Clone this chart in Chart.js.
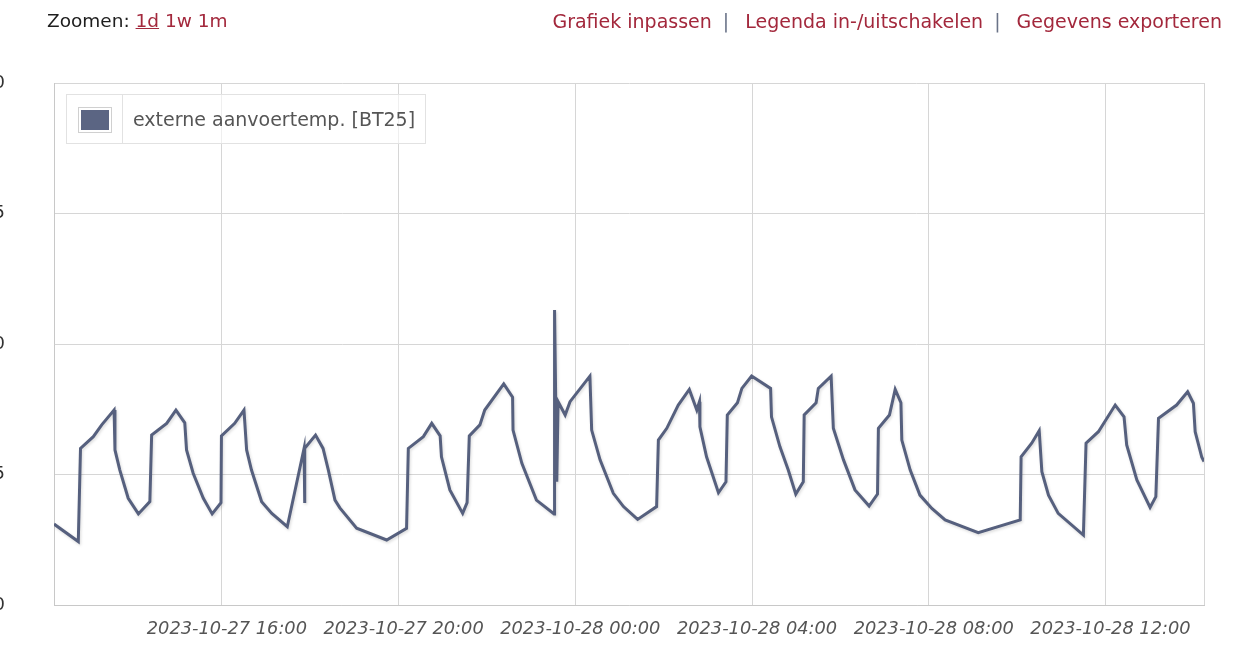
<!DOCTYPE html>
<html>
<head>
<meta charset="utf-8">
<script src="https://cdn.jsdelivr.net/npm/chart.js@4.4.0/dist/chart.umd.min.js"></script>
<style>
  body { margin: 0; background: #fff; width: 1255px; height: 656px; overflow: hidden; position: relative;
         font-family: "DejaVu Sans", sans-serif; }
  #wrap { position: absolute; left: 0; top: 0; width: 1255px; height: 656px; }
  .zoom { position: absolute; left: 47px; top: 10px; font-size: 18.5px; color: #1e1e1e; white-space: nowrap; }
  .zoom a { color: #a3283c; text-decoration: none; margin-left: 0; }
  .zoom a.on { text-decoration: underline; }
  .links { position: absolute; right: 33px; top: 10px; font-size: 19px; color: #a3283c; white-space: nowrap; }
  .links .sep { color: #6a7388; margin: 0 16px 0 11px; }
  .legend { position: absolute; left: 66px; top: 94px; width: 358px; height: 48px; border: 1px solid #e2e2e2;
            background: rgba(255,255,255,0.6); }
  .legend .cell { position: absolute; left: 0; top: 0; width: 55px; height: 48px; border-right: 1px solid #e2e2e2; }
  .legend .sw { position: absolute; left: 11px; top: 12px; width: 28px; height: 20px; border: 1px solid #d0d0d0;
                padding: 2px; background: #fff; }
  .legend .sw div { width: 100%; height: 100%; background: #5b6583; }
  .legend .txt { position: absolute; left: 66px; top: 13px; font-size: 19px; color: #555; white-space: nowrap; }
</style>
</head>
<body>
<div id="wrap"><canvas id="chart" width="1255" height="656"></canvas></div>
<div class="zoom">Zoomen: <a class="on">1d</a> <a>1w</a> <a>1m</a></div>
<div class="links">Grafiek inpassen<span class="sep">|</span>Legenda in-/uitschakelen<span class="sep">|</span>Gegevens exporteren</div>
<div class="legend"><div class="cell"><div class="sw"><div></div></div></div><div class="txt">externe aanvoertemp. [BT25]</div></div>
<script>
// time in hours counted from 2023-10-27 00:00
const hours = [
  12.20, 12.75, 12.80, 13.09, 13.28, 13.56, 13.58, 13.69, 13.88, 14.11,
  14.37, 14.41, 14.75, 14.96, 15.16, 15.20, 15.35, 15.58, 15.78,
  15.98, 15.99, 16.29, 16.50, 16.56, 16.67, 16.90, 17.13, 17.48,
  17.86, 17.87, 17.88, 18.12, 18.29, 18.41, 18.56, 18.67, 19.05, 19.73,
  20.18, 20.22, 20.56, 20.75, 20.94, 20.97, 21.16, 21.45,
  21.55, 21.60, 21.84, 21.95, 22.38, 22.58, 22.59, 22.79, 23.12, 23.52,
  23.53, 23.58, 23.61, 23.77, 23.88, 24.33, 24.37, 24.56, 24.86, 25.09, 25.41,
  25.84, 25.88, 26.07, 26.33, 26.58, 26.75, 26.81, 26.82, 26.97, 27.24,
  27.41, 27.44, 27.67, 27.77, 27.99, 28.42, 28.44, 28.63, 28.82, 28.99,
  29.16, 29.18, 29.45, 29.50, 29.79, 29.84, 30.07, 30.33, 30.65,
  30.84, 30.86, 31.11, 31.24, 31.37, 31.39, 31.58, 31.80, 32.07, 32.37, 33.12,
  34.07, 34.09, 34.33, 34.50, 34.56, 34.71, 34.93, 35.50,
  35.56, 35.84, 36.22, 36.42, 36.48, 36.71, 37.01,
  37.14, 37.20, 37.61, 37.86, 37.99, 38.03, 38.18, 38.23
];
const temps = [
  23.10, 22.43, 26.00, 26.45, 26.90, 27.47, 25.94, 25.17, 24.09, 23.49,
  23.96, 26.51, 26.96, 27.47, 26.98, 25.94, 25.05, 24.09, 23.49,
  23.92, 26.48, 26.96, 27.47, 25.94, 25.17, 23.96, 23.51, 23.00,
  26.00, 23.91, 26.00, 26.51, 26.00, 25.17, 24.02, 23.72, 22.94, 22.49,
  22.94, 26.00, 26.45, 26.96, 26.48, 25.68, 24.41, 23.51,
  23.92, 26.48, 26.90, 27.47, 28.47, 27.96, 26.70, 25.43, 24.02, 23.49,
  31.30, 24.72, 27.79, 27.28, 27.79, 28.77, 26.70, 25.56, 24.28, 23.77, 23.28,
  23.77, 26.32, 26.77, 27.66, 28.26, 27.47, 27.79, 26.83, 25.68, 24.30,
  24.72, 27.28, 27.75, 28.30, 28.77, 28.30, 27.21, 26.07, 25.17, 24.25,
  24.72, 27.28, 27.75, 28.30, 28.77, 26.77, 25.56, 24.41, 23.79,
  24.25, 26.77, 27.28, 28.26, 27.75, 26.32, 25.17, 24.21, 23.70, 23.26, 22.77,
  23.26, 25.68, 26.20, 26.68, 25.11, 24.21, 23.51, 22.68,
  26.20, 26.64, 27.66, 27.21, 26.13, 24.79, 23.74,
  24.15, 27.15, 27.66, 28.17, 27.73, 26.64, 25.66, 25.50
];
const tickHours = [16, 20, 24, 28, 32, 36];
const xTickLabels = ['2023-10-27 16:00', '2023-10-27 20:00', '2023-10-28 00:00',
                     '2023-10-28 04:00', '2023-10-28 08:00', '2023-10-28 12:00'];
const yTicks = [20, 25, 30, 35, 40];

const xMin = 12.2, xMax = 38.23;

// soft shadow under the line like the original
const lineShadow = {
    id: 'lineShadow',
    beforeDatasetDraw(chart) {
        const c = chart.ctx;
        c.save();
        c.shadowColor = 'rgba(0,0,0,0.15)';
        c.shadowBlur = 3;
        c.shadowOffsetX = 1;
        c.shadowOffsetY = 1.5;
    },
    afterDatasetDraw(chart) {
        chart.ctx.restore();
    }
};

new Chart(document.getElementById('chart'), {
    type: 'line',
    data: {
        datasets: [{
            label: 'externe aanvoertemp. [BT25]',
            data: hours.map((h, i) => ({ x: h, y: temps[i] })),
            borderColor: '#56607e',
            borderWidth: 3,
            pointRadius: 0,
            tension: 0,
            fill: false
        }]
    },
    options: {
        responsive: false,
        animation: false,
        devicePixelRatio: 1,
        layout: { padding: { left: 0, top: 83, right: 51, bottom: 0 } },
        plugins: {
            legend: { display: false },
            tooltip: { enabled: false }
        },
        scales: {
            x: {
                type: 'linear',
                min: xMin,
                max: xMax,
                afterBuildTicks: scale => {
                    scale.ticks = [xMin, ...tickHours, xMax].map(v => ({ value: v }));
                },
                afterFit: scale => { scale.height = 51; },
                ticks: {
                    autoSkip: false,
                    maxRotation: 0,
                    padding: 14,
                    labelOffset: 5,
                    color: '#555',
                    font: { family: 'DejaVu Sans', size: 17.8, style: 'italic' },
                    callback: v => {
                        const i = tickHours.indexOf(v);
                        return i >= 0 ? xTickLabels[i] : '';
                    }
                },
                grid: { color: '#d6d6d6', drawTicks: false },
                border: { color: '#c8c8c8' }
            },
            y: {
                min: 20,
                max: 40,
                afterBuildTicks: scale => {
                    scale.ticks = yTicks.map(v => ({ value: v }));
                },
                // big label padding pushes the numbers off the left edge; keep it from eating the bottom
                afterFit: scale => {
                    scale.width = 54;
                    scale.paddingTop = 10;
                    scale.paddingBottom = 10;
                },
                ticks: {
                    padding: 49,
                    color: '#333',
                    font: { family: 'DejaVu Sans', size: 18 }
                },
                grid: { color: '#d6d6d6', drawTicks: false },
                border: { color: '#c8c8c8' }
            }
        }
    },
    plugins: [lineShadow]
});
</script>
</body>
</html>
